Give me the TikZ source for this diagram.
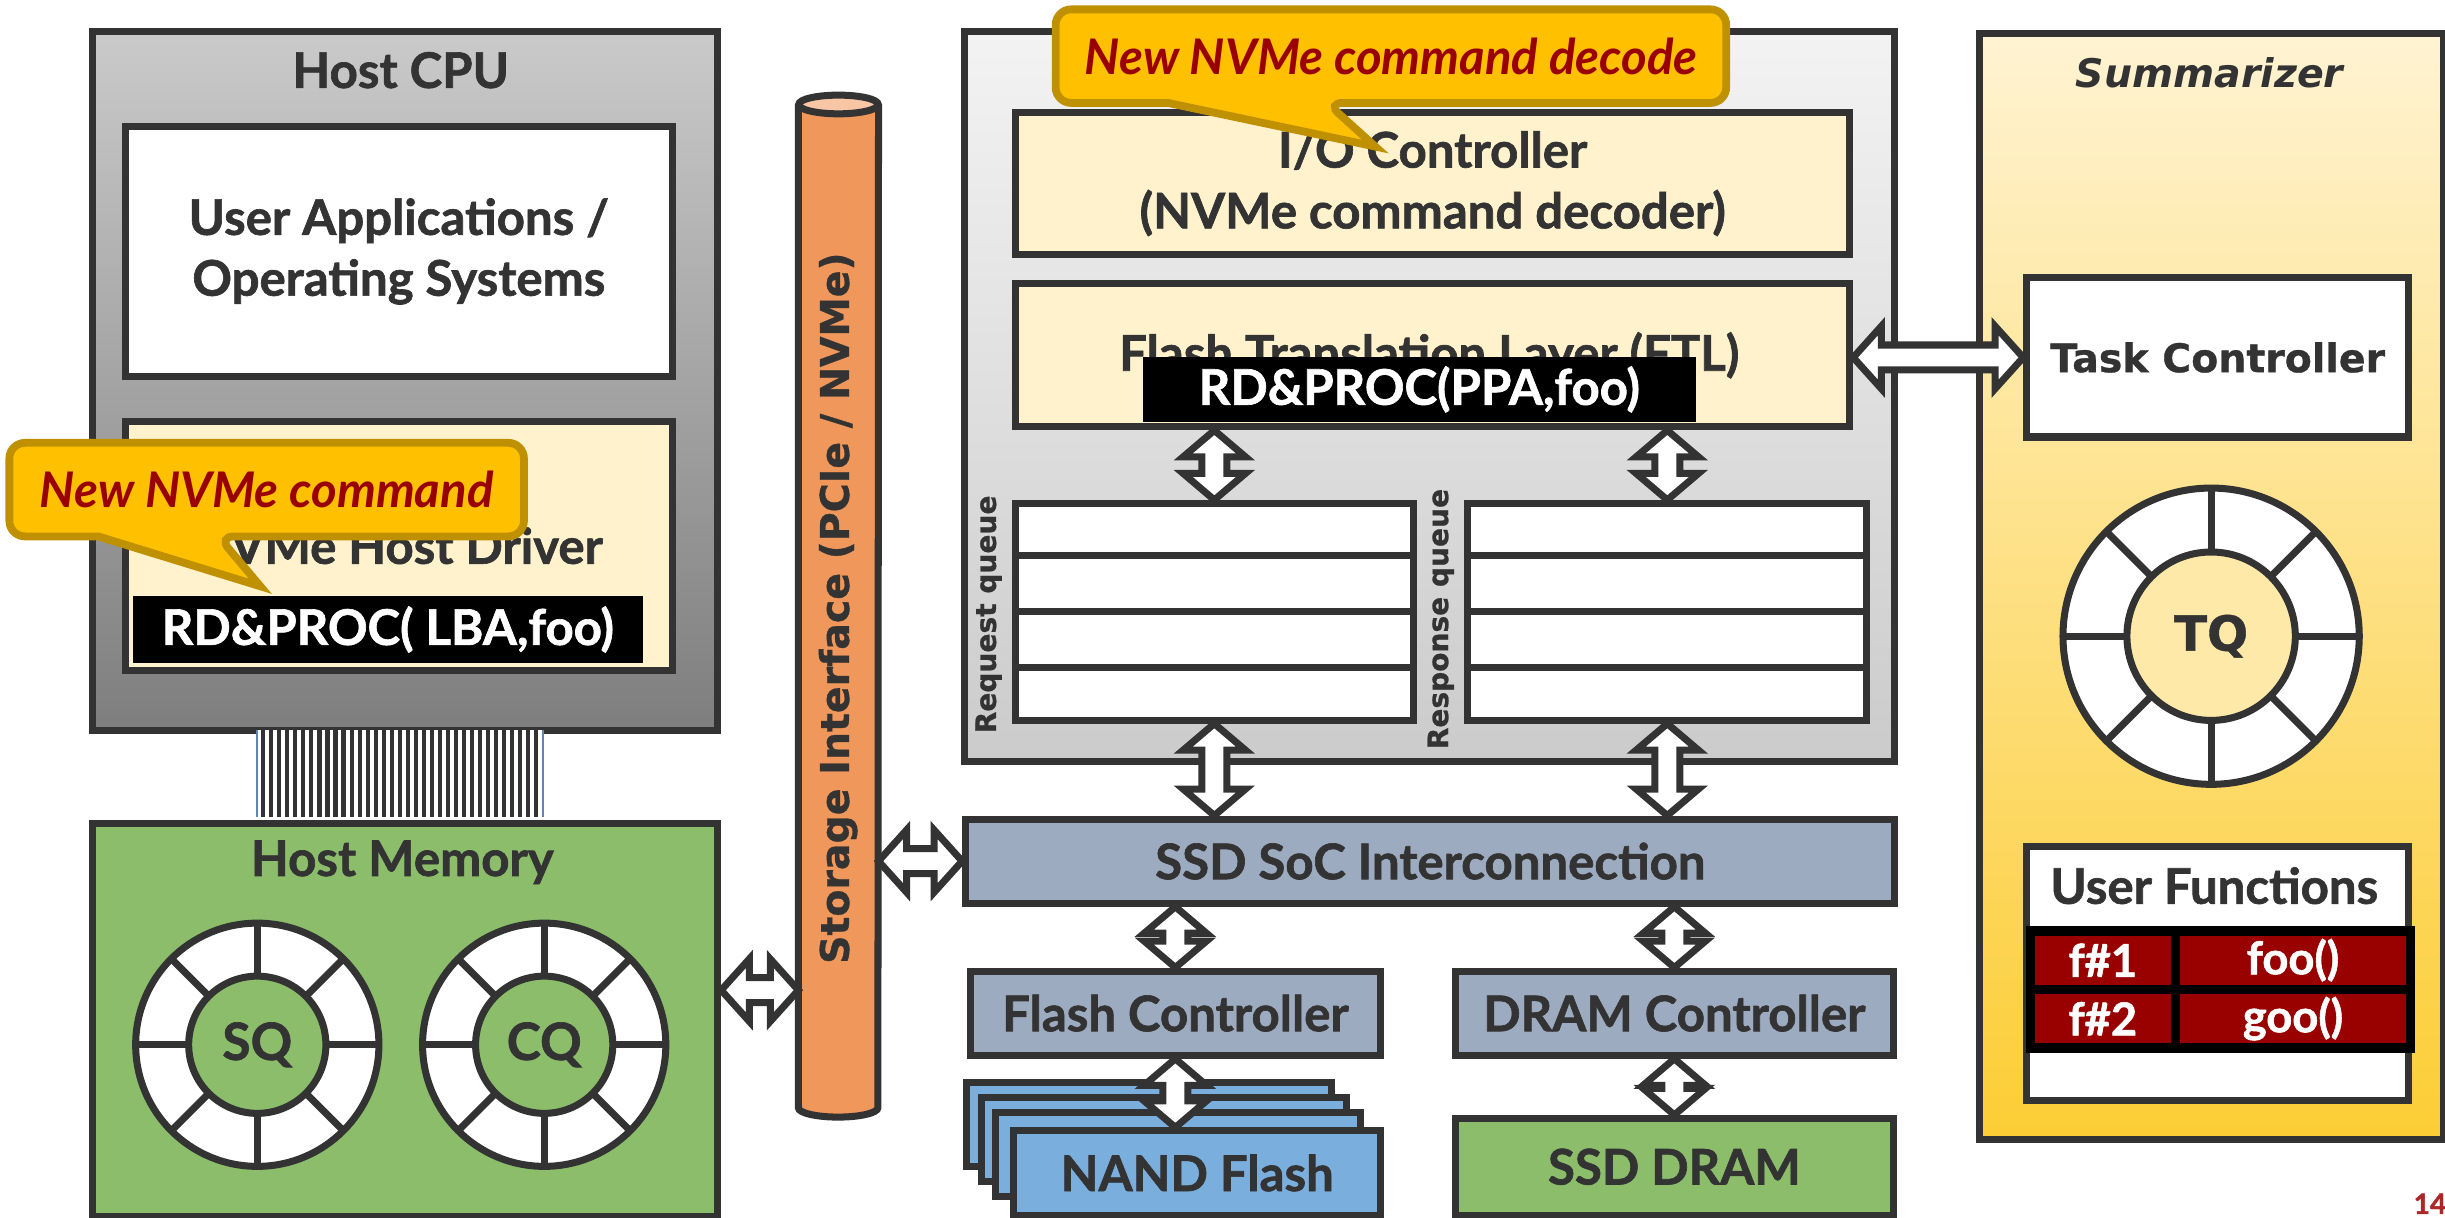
\documentclass[tikz,border=0pt]{standalone}
\usepackage{fontspec}
\setmainfont{Lato}[BoldFeatures={FakeBold=1.3}]
\newfontfamily\wide{DejaVu Sans}[BoldFeatures={FakeBold=0.8}]
\usetikzlibrary{positioning,calc}

\definecolor{ink}{RGB}{51,51,51}
\definecolor{cream}{RGB}{255,242,204}
\definecolor{cpuhi}{RGB}{202,202,202}
\definecolor{cpulo}{RGB}{126,126,126}
\definecolor{ssdhi}{RGB}{243,243,243}
\definecolor{ssdlo}{RGB}{203,203,203}
\definecolor{sumhi}{RGB}{255,243,210}
\definecolor{sumlo}{RGB}{252,205,52}
\definecolor{tqcore}{RGB}{255,233,168}
\definecolor{memgreen}{RGB}{139,189,107}
\definecolor{socblue}{RGB}{157,171,192}
\definecolor{nandblue}{RGB}{122,174,221}
\definecolor{busorange}{RGB}{240,151,91}
\definecolor{bustop}{RGB}{248,198,165}
\definecolor{callfill}{RGB}{255,192,0}
\definecolor{callline}{RGB}{191,144,0}
\definecolor{callink}{RGB}{153,0,0}
\definecolor{fnred}{RGB}{153,0,0}
\definecolor{pagered}{RGB}{170,40,40}
\definecolor{edgeblue}{RGB}{95,135,180}

\newcommand{\labfont}{\fontsize{31.5}{39}\selectfont\bfseries}
\newcommand{\widefont}{\wide\fontsize{25.3}{29}\selectfont\bfseries}

% hollow double arrows, vertical (top to bottom) and horizontal (left to right)
\newcommand{\vlink}[2]{%
  \draw[link] let \p1=(#1), \p2=(#2) in
    (\x1,\y1) -- (\x1+20pt,\y1-17pt) -- (\x1+8pt,\y1-17pt) -- (\x1+8pt,\y2+17pt)
    -- (\x1+20pt,\y2+17pt) -- (\x1,\y2) -- (\x1-20pt,\y2+17pt) -- (\x1-8pt,\y2+17pt)
    -- (\x1-8pt,\y1-17pt) -- (\x1-20pt,\y1-17pt) -- cycle;}
\newcommand{\hlink}[2]{%
  \draw[link] let \p1=(#1), \p2=(#2) in
    (\x1,\y1) -- (\x1+18pt,\y1+20pt) -- (\x1+18pt,\y1+8pt) -- (\x2-18pt,\y1+8pt)
    -- (\x2-18pt,\y1+20pt) -- (\x2,\y1) -- (\x2-18pt,\y1-20pt) -- (\x2-18pt,\y1-8pt)
    -- (\x1+18pt,\y1-8pt) -- (\x1+18pt,\y1-20pt) -- cycle;}

\begin{document}
\begin{tikzpicture}[x=1pt,y=-1pt,line join=miter,
  box/.style={draw=ink,line width=4.5pt,inner sep=0pt,anchor=north west,text=ink,font=\labfont,align=center},
  ttl/.style={inner sep=0pt,text=ink,font=\labfont},
  cmd/.style={fill=black,text=white,inner sep=0pt,anchor=north west,font=\labfont},
  call/.style={fill=callfill,draw=callline,line width=5pt},
  calltxt/.style={inner sep=0pt,text=callink,font=\labfont\itshape},
  link/.style={draw=ink,fill=white,line width=4.5pt},
  ring/.style={draw=ink,fill=white,line width=4.5pt},
  spoke/.style={draw=ink,line width=4.5pt},
  core/.style={circle,draw=ink,line width=4.5pt,inner sep=0pt,text=ink},
  qlabel/.style={inner sep=0pt,rotate=90,text=ink,font=\wide\fontsize{18}{20}\selectfont\bfseries},
  cell/.style={fill=fnred,draw=black,line width=6pt,inner sep=0pt,anchor=north west,text=white,font=\fontsize{29}{30}\selectfont\bfseries}]
\useasboundingbox (0,0) rectangle (1568,781);

% host cpu
\node[box,minimum width=401pt,minimum height=448pt,top color=cpuhi,bottom color=cpulo] (cpu) at (57,18) {};
\node[ttl] (cputtl) at (257,45) {Host CPU};
\node[box,fill=white,minimum width=351pt,minimum height=160pt] (apps) at (78,79) {User Applications /\\Operating Systems};
\node[box,fill=cream,minimum width=351pt,minimum height=160pt] (drv) at (78,268) {};
\node[ttl] (drvtxt) at (255,350) {NVMe Host Driver};
\node[cmd,minimum width=327pt,minimum height=43pt] (drvcmd) at (85,382) {RD\&PROC( LBA,foo)};

% ribbon cable
\fill[white] (164.6,468) rectangle (348.3,524);
\foreach \i in {0,...,34}
  \draw[ink,line width=2.6pt] (168.9+\i*5.14,468) -- ++(0,56);
\draw[edgeblue,line width=1.3pt] (164.6,468) -- ++(0,56);
\draw[edgeblue,line width=1.3pt] (348.3,468) -- ++(0,56);

% host memory
\node[box,fill=memgreen,minimum width=401pt,minimum height=252pt] (hmem) at (57,526) {};
\node[ttl] (hmemttl) at (258,553) {Host Memory};
\draw[ring] (165,670) circle[radius=78pt];
\foreach \a in {0,45,...,315}
  \draw[spoke] (165,670) -- ++(\a:78pt);
\node[core,fill=memgreen,minimum size=88pt,font=\fontsize{33}{34}\selectfont\bfseries] (sq) at (165,670) {SQ};
\draw[ring] (349,670) circle[radius=78pt];
\foreach \a in {0,45,...,315}
  \draw[spoke] (349,670) -- ++(\a:78pt);
\node[core,fill=memgreen,minimum size=88pt,font=\fontsize{33}{34}\selectfont\bfseries] (cq) at (349,670) {CQ};

% storage interface
\node[minimum width=51pt,minimum height=643pt,inner sep=0pt,anchor=north west] (bus) at (512,67) {};
\draw[fill=busorange,draw=ink,line width=4.5pt] (bus.north west) -- (bus.south west)
  arc[start angle=180,end angle=360,x radius=25.5pt,y radius=6pt] -- (bus.north east);
\draw[fill=bustop,draw=ink,line width=4.5pt] (bus.north) ellipse[x radius=25.5pt,y radius=6pt];
\node[rotate=90,inner sep=0pt,text=ink,font=\widefont] (bustxt) at (537.5,390) {Storage Interface (PCIe / NVMe)};

% ssd controller
\node[box,minimum width=597pt,minimum height=468pt,top color=ssdhi,bottom color=ssdlo] (ssd) at (616,18) {};
\node[box,fill=cream,minimum width=535pt,minimum height=91pt] (ioc) at (649,70) {I/O Controller\\(NVMe command decoder)};
\node[box,fill=cream,minimum width=535pt,minimum height=92pt] (ftl) at (649,179.5) {};
\node[ttl] (ftltxt) at (916.5,228) {Flash Translation Layer (FTL)};
\node[cmd,minimum width=355pt,minimum height=42pt] (ftlcmd) at (732.5,228.5) {RD\&PROC(PPA,foo)};

\node[box,fill=white,minimum width=255pt,minimum height=139pt] (reqq) at (649,320.6) {};
\node[box,fill=white,minimum width=256pt,minimum height=139pt] (respq) at (939,320.6) {};
\foreach \q in {reqq,respq}
  \foreach \i in {1,2,3}
    \draw[ink,line width=4.5pt] ($(\q.north west)!\i/4!(\q.south west)$) -- ($(\q.north east)!\i/4!(\q.south east)$);
\node[qlabel] (reqlab) at (634,394) {Request queue};
\node[qlabel] (resplab) at (924,397) {Response queue};

\node[box,fill=socblue,minimum width=596pt,minimum height=54pt] (soc) at (617,523) {SSD SoC Interconnection};
\node[box,fill=socblue,minimum width=263pt,minimum height=54pt] (fc) at (620,620.5) {Flash Controller};
\node[box,fill=socblue,minimum width=281pt,minimum height=54pt] (dc) at (931,620.5) {DRAM Controller};
\foreach \d in {0,1,2}
  \draw[fill=nandblue,draw=ink,line width=4.5pt] (620+\d*9.3,694+\d*9.6) rectangle ++(234,54);
\node[box,fill=nandblue,minimum width=235pt,minimum height=54pt] (nand) at (648,723) {NAND Flash};
\node[box,fill=memgreen,minimum width=281pt,minimum height=62pt] (sdram) at (931,715) {SSD DRAM};

% summarizer
\node[box,minimum width=298pt,minimum height=709pt,top color=sumhi,bottom color=sumlo] (summ) at (1267,19.5) {};
\node[ttl,font=\widefont\itshape] (summttl) at (1417,47) {Summarizer};
\node[box,fill=white,minimum width=245pt,minimum height=102pt,font=\widefont] (tc) at (1297.5,176) {Task Controller};
\draw[ring] (1418,408) circle[radius=95pt];
\foreach \a in {0,45,...,315}
  \draw[spoke] (1418,408) -- ++(\a:95pt);
\node[core,fill=tqcore,minimum size=108pt,font=\wide\fontsize{31}{32}\selectfont\bfseries] (tq) at (1418,408) {TQ};
\node[box,fill=white,minimum width=245pt,minimum height=163pt] (ufn) at (1297.5,540.4) {};
\node[ttl] (ufnttl) at (1420,568) {User Functions};
\node[cell,minimum width=93pt,minimum height=37.5pt] (f1) at (1299,594) {f\#1};
\node[cell,minimum width=151pt,minimum height=37.5pt] (foo) at (1392,594) {foo()};
\node[cell,minimum width=93pt,minimum height=37.5pt] (f2) at (1299,631.5) {f\#2};
\node[cell,minimum width=151pt,minimum height=37.5pt] (goo) at (1392,631.5) {goo()};

% connections
\hlink{hmem.east |- 0,635}{bus.west}
\hlink{bus.east |- soc.west}{soc.west}
\hlink{ftl.east |- tc.west}{tc.west}
\vlink{ftl.south -| reqq.north}{reqq.north}
\vlink{ftl.south -| respq.north}{respq.north}
\vlink{reqq.south}{soc.north -| reqq.south}
\vlink{respq.south}{soc.north -| respq.south}
\vlink{soc.south -| fc.north}{fc.north}
\vlink{soc.south -| dc.north}{dc.north}
\vlink{fc.south}{fc.south |- nand.north}
\vlink{dc.south}{sdram.north}

% callouts
\draw[call] (171,284) [rounded corners=10pt] -- (336,284) -- (336,344) -- (140,344) [sharp corners] -- (167,376) -- (63,344) [rounded corners=10pt] -- (6,344) -- (6,284) -- cycle;
\node[calltxt] (newcmd) at (171,314) {New NVMe command};
\draw[call] (892,6) [rounded corners=10pt] -- (1107,6) -- (1107,66) -- (851,66) [sharp corners] -- (882,94) -- (749,66) [rounded corners=10pt] -- (677,66) -- (677,6) -- cycle;
\node[calltxt] (newdec) at (892,36) {New NVMe command decode};

\node[inner sep=0pt,anchor=east,text=pagered,font=\fontsize{18}{20}\selectfont\bfseries] (page) at (1569,772) {14};
\end{tikzpicture}
\end{document}
